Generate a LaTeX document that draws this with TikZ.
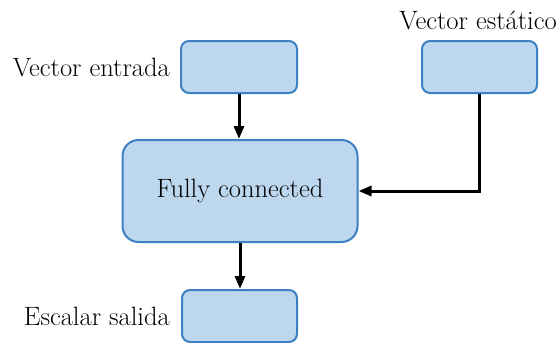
\documentclass[tikz,border=0pt]{standalone}
\usetikzlibrary{arrows.meta}
\definecolor{boxfill}{RGB}{189,215,238}
\definecolor{boxdraw}{RGB}{62,128,196}
\begin{document}
\begin{tikzpicture}[x=1pt,y=-1pt,
  blockbox/.style={draw=boxdraw,fill=boxfill,line width=2pt,rounded corners=8pt},
  bigbox/.style={draw=boxdraw,fill=boxfill,line width=2pt,rounded corners=16pt},
  conn/.style={line width=3pt,-{Triangle[length=13pt,width=10pt]}},
  lbl/.style={font=\fontsize{26.5}{30}\selectfont,inner sep=0pt}]
\useasboundingbox (0,0) rectangle (558,343);
\node[blockbox,minimum width=116pt,minimum height=52pt] (vin) at (239,67) {};
\node[blockbox,minimum width=115pt,minimum height=52pt] (vst) at (479.5,67) {};
\node[bigbox,minimum width=235pt,minimum height=102pt] (fc) at (240,191) {};
\node[lbl] (fctext) at (fc.center) {Fully connected};
\node[lbl,anchor=east] (tin) at (170,68) {Vector entrada};
\node[lbl] (tst) at (478,20) {Vector estático};
\node[blockbox,minimum width=115pt,minimum height=52pt] (out) at (239.5,316) {};
\node[lbl,anchor=east] (tout) at (170,316) {Escalar salida};
\draw[conn] (vin.south) -- (vin.south |- fc.north);
\draw[conn] (fc.south) -- (fc.south |- out.north);
\coordinate (corner) at (vst.south |- fc.east);
\draw[conn,line join=miter] (vst.south) -- (corner) -- (fc.east);
\end{tikzpicture}
\end{document}
